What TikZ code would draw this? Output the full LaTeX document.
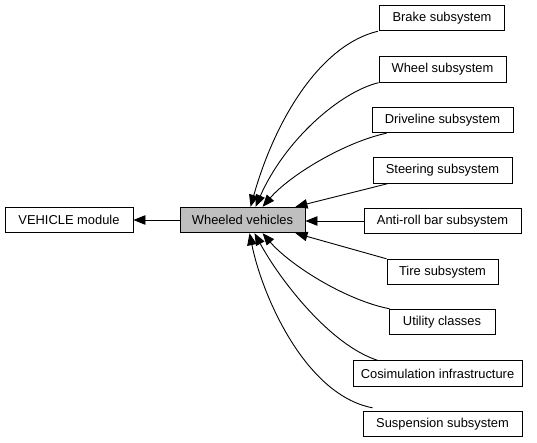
\documentclass[tikz,border=0pt]{standalone}
\usepackage{fontspec}
\setmainfont{Liberation Sans}
\usetikzlibrary{arrows.meta,calc}
\begin{document}
\begin{tikzpicture}[x=1pt,y=-1pt,
  box/.style={draw=black,line width=0.9pt,fill=white,minimum height=25.5pt,inner sep=0pt,
    font=\fontsize{12.9}{14}\selectfont},
  edge/.style={line width=0.9pt,-{Triangle[length=12pt,width=9.5pt]}}]
\useasboundingbox (0,0) rectangle (537,443);
\node[box,minimum width=128pt] (veh) at (69,220) {VEHICLE module};
\node[box,minimum width=125pt,fill=black!25] (wv) at (242.5,220) {Wheeled vehicles};
\node[box,minimum width=125pt] (brake) at (442,18) {Brake subsystem};
\node[box,minimum width=127pt] (wheel) at (442.5,69.5) {Wheel subsystem};
\node[box,minimum width=141pt] (drive) at (442.5,120) {Driveline subsystem};
\node[box,minimum width=139pt] (steer) at (442.5,170.5) {Steering subsystem};
\node[box,minimum width=157pt] (anti) at (442.5,221) {Anti-roll bar subsystem};
\node[box,minimum width=111pt] (tire) at (442.5,272) {Tire subsystem};
\node[box,minimum width=106pt] (util) at (442,322) {Utility classes};
\node[box,minimum width=169pt] (cosim) at (437.5,373.5) {Cosimulation infrastructure};
\node[box,minimum width=159pt] (susp) at (442.5,424) {Suspension subsystem};

\draw[edge] (wv.west) -- (veh.east);
\draw[edge] ($(brake.south west)+(-1,0)$) .. controls (320,45) and (275,120) .. ($(wv.north west)+(71,0)$);
\draw[edge] (wheel.south west) .. controls (340,92) and (285,140) .. ($(wv.north west)+(76,0)$);
\draw[edge] ($(drive.south west)+(15,0)$) .. controls (345,142) and (290,175) .. ($(wv.north west)+(83,0)$);
\draw[edge] ($(steer.south west)+(15,0)$) -- ($(wv.north east)+(-10,0)$);
\draw[edge] (anti.west) -- (wv.east |- anti.west);
\draw[edge] ($(tire.north west)$) -- ($(wv.south east)+(-10,0)$);
\draw[edge] ($(util.north west)+(1,0)$) .. controls (345,300) and (290,265) .. ($(wv.south west)+(83,0)$);
\draw[edge] ($(cosim.north west)+(25,0)$) .. controls (330,345) and (280,280) .. ($(wv.south west)+(75,0)$);
\draw[edge] ($(susp.north west)+(10,-3)$) .. controls (305,395) and (262,295) .. ($(wv.south west)+(70,0)$);
\end{tikzpicture}
\end{document}
